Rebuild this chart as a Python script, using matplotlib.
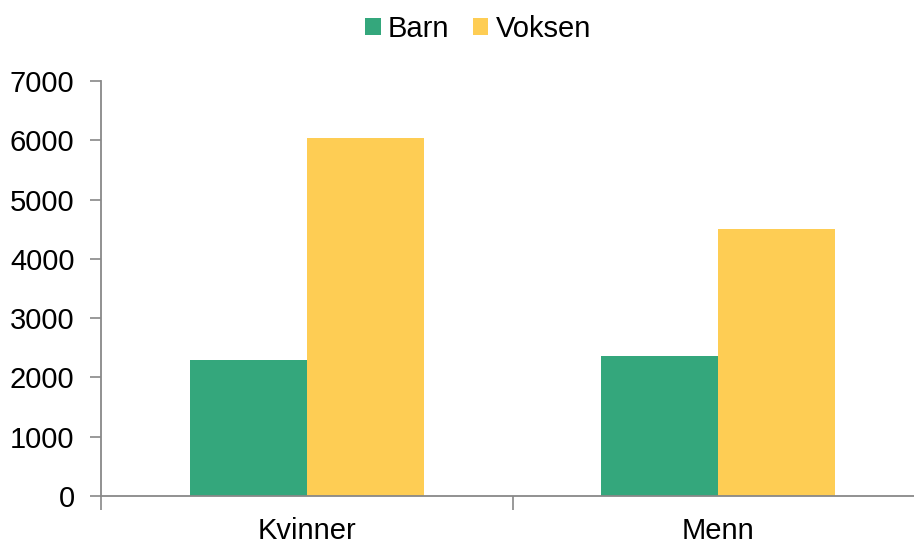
import matplotlib
matplotlib.use("Agg")
import matplotlib.pyplot as plt
import numpy as np

# -- Data ----------------------------------------------------------------------
categories = ["Kvinner", "Menn"]
barn = [2290, 2360]
voksen = [6040, 4500]
y_ticks = [0, 1000, 2000, 3000, 4000, 5000, 6000, 7000]

GREEN = "#34A77C"
YELLOW = "#FECD54"
AXIS = "#888888"

plt.rcParams["font.family"] = ["Liberation Sans", "DejaVu Sans"]
plt.rcParams["font.size"] = 21

fig = plt.figure(figsize=(9.14, 5.43), dpi=100)
W, H = 914, 543
# axes box in pixels: left 101, right 924 (slightly past the edge), bottom 496, top 81
ax = fig.add_axes([101 / W, 1 - 496 / H, (924 - 101) / W, (496 - 81) / H])

x = np.arange(len(categories))
bw = 0.284
ax.bar(x - bw / 2, barn, bw, color=GREEN, label="Barn")
ax.bar(x + bw / 2, voksen, bw, color=YELLOW, label="Voksen")

ax.set_xlim(-0.5, 1.5)
ax.set_ylim(0, 7000)
ax.set_yticks(y_ticks)
ax.set_yticklabels([str(v) for v in y_ticks])

# category labels at centres, tick marks at the boundaries
ax.set_xticks(x)
ax.set_xticklabels(categories)
ax.tick_params(axis="x", which="major", length=0, pad=15)
ax.set_xticks([-0.5, 0.5, 1.5], minor=True)
ax.tick_params(axis="x", which="minor", length=10, width=1.2, color=AXIS)
ax.tick_params(axis="y", length=8, width=1.2, color=AXIS, pad=11)

for side in ["top", "right"]:
    ax.spines[side].set_visible(False)
for side in ["left", "bottom"]:
    ax.spines[side].set_color(AXIS)
    ax.spines[side].set_linewidth(1.3)

fig.legend(loc="center", bbox_to_anchor=(478 / W, 1 - 29 / H), ncol=2,
           frameon=False, borderpad=0, handlelength=0.53, handleheight=0.53,
           handletextpad=0.25, columnspacing=0.8)

fig.savefig("out.png", dpi=100)
